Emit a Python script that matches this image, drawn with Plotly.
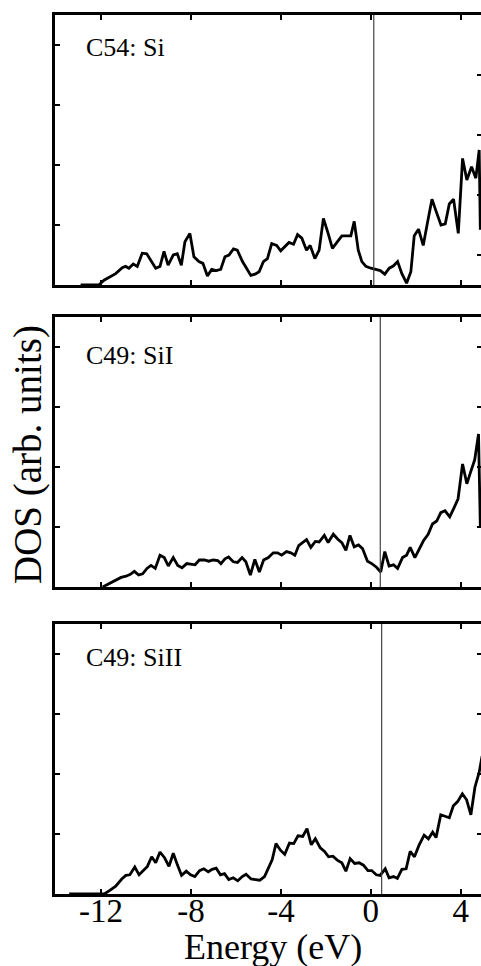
import plotly.graph_objects as go

# ---------------- data (Energy in eV, DOS in arb. units) ----------------
energy_c54_si = [-12.91, -12.10, -11.87, -11.58, -11.35, -11.06, -10.91, -10.76, -10.57, -10.39,
                 -10.17, -9.97, -9.75, -9.57, -9.38, -9.20, -9.02, -8.79, -8.61, -8.43,
                 -8.27, -8.05, -7.87, -7.65, -7.47, -7.27, -7.08, -6.87, -6.68, -6.49,
                 -6.31, -6.11, -5.94, -5.71, -5.53, -5.34, -5.15, -4.97, -4.78, -4.60,
                 -4.41, -4.19, -4.01, -3.81, -3.64, -3.44, -3.26, -3.07, -2.86, -2.70,
                 -2.49, -2.30, -2.11, -1.90, -1.71, -1.51, -1.29, -1.08, -0.89, -0.74,
                 -0.56, -0.40, -0.22, 0.00, 0.22, 0.42, 0.62, 0.82, 1.01, 1.19,
                 1.38, 1.59, 1.78, 1.93, 2.12, 2.33, 2.52, 2.72, 2.92, 3.12,
                 3.31, 3.49, 3.68, 3.89, 4.08, 4.27, 4.48, 4.67, 4.82, 4.87]
dos_c54_si = [0, 0, 0.08, 0.14, 0.19, 0.29, 0.31, 0.28, 0.35, 0.31,
              0.53, 0.52, 0.39, 0.28, 0.31, 0.56, 0.33, 0.50, 0.52, 0.33,
              0.72, 0.86, 0.47, 0.39, 0.36, 0.15, 0.26, 0.24, 0.26, 0.47,
              0.50, 0.60, 0.58, 0.39, 0.28, 0.16, 0.18, 0.22, 0.39, 0.44,
              0.69, 0.66, 0.57, 0.64, 0.71, 0.68, 0.84, 0.78, 0.58, 0.66,
              0.44, 0.58, 1.11, 0.86, 0.61, 0.71, 0.82, 0.82, 0.82, 1.06,
              0.58, 0.39, 0.31, 0.28, 0.26, 0.24, 0.18, 0.28, 0.32, 0.39,
              0.19, 0.03, 0.22, 0.82, 0.93, 0.66, 1.04, 1.43, 1.21, 1.00,
              1.02, 1.35, 1.43, 0.86, 2.11, 1.75, 1.97, 1.78, 2.25, 0.92]

energy_c49_si1 = [-11.93, -11.63, -11.41, -11.11, -10.89, -10.70, -10.52, -10.33, -10.15, -9.96,
                  -9.78, -9.59, -9.38, -9.19, -9.01, -8.79, -8.59, -8.40, -8.19, -8.00,
                  -7.82, -7.63, -7.41, -7.21, -7.01, -6.81, -6.67, -6.49, -6.33, -6.12,
                  -5.93, -5.73, -5.56, -5.36, -5.16, -4.96, -4.77, -4.56, -4.34, -4.15,
                  -3.97, -3.75, -3.56, -3.38, -3.21, -3.04, -2.86, -2.67, -2.47, -2.30,
                  -2.07, -1.90, -1.67, -1.48, -1.29, -1.11, -0.93, -0.74, -0.55, -0.37,
                  -0.15, 0.04, 0.25, 0.44, 0.62, 0.81, 1.01, 1.19, 1.41, 1.59,
                  1.75, 1.96, 2.15, 2.34, 2.55, 2.74, 2.93, 3.11, 3.30, 3.51,
                  3.70, 3.88, 4.08, 4.27, 4.44, 4.62, 4.79, 4.87]
dos_c49_si1 = [0, 0.06, 0.10, 0.16, 0.18, 0.21, 0.26, 0.20, 0.22, 0.31,
               0.36, 0.31, 0.53, 0.49, 0.35, 0.49, 0.36, 0.32, 0.39, 0.38,
               0.37, 0.45, 0.45, 0.43, 0.45, 0.44, 0.39, 0.47, 0.50, 0.42,
               0.41, 0.49, 0.42, 0.20, 0.46, 0.25, 0.45, 0.49, 0.57, 0.57,
               0.53, 0.59, 0.57, 0.53, 0.69, 0.74, 0.79, 0.66, 0.76, 0.75,
               0.86, 0.74, 0.88, 0.80, 0.74, 0.61, 0.86, 0.67, 0.70, 0.64,
               0.43, 0.39, 0.33, 0.25, 0.59, 0.35, 0.37, 0.31, 0.49, 0.53,
               0.66, 0.49, 0.64, 0.77, 0.88, 1.05, 1.10, 1.24, 1.27, 1.17,
               1.32, 1.47, 2.05, 1.72, 1.92, 2.12, 2.55, 1.00]

energy_c49_si2 = [-13.42, -11.86, -11.61, -11.35, -11.08, -10.90, -10.72, -10.50, -10.31, -10.13,
                  -9.94, -9.75, -9.57, -9.38, -9.17, -8.98, -8.79, -8.61, -8.42, -8.21,
                  -8.02, -7.83, -7.62, -7.43, -7.23, -7.06, -6.88, -6.69, -6.51, -6.32,
                  -6.12, -5.92, -5.72, -5.55, -5.33, -5.13, -4.94, -4.73, -4.54, -4.39,
                  -4.22, -4.02, -3.83, -3.62, -3.43, -3.24, -3.03, -2.84, -2.65, -2.47,
                  -2.25, -2.06, -1.88, -1.69, -1.48, -1.29, -1.11, -0.92, -0.72, -0.52,
                  -0.33, -0.13, 0.04, 0.24, 0.41, 0.64, 0.81, 1.01, 1.18, 1.38,
                  1.57, 1.75, 1.94, 2.14, 2.37, 2.56, 2.75, 2.90, 3.11, 3.30,
                  3.49, 3.67, 3.86, 4.07, 4.26, 4.45, 4.63, 4.82, 4.95]
dos_c49_si2 = [0, 0, 0.06, 0.13, 0.25, 0.31, 0.32, 0.45, 0.32, 0.38,
               0.46, 0.62, 0.52, 0.70, 0.60, 0.46, 0.68, 0.49, 0.31, 0.38,
               0.32, 0.29, 0.39, 0.42, 0.37, 0.41, 0.43, 0.32, 0.34, 0.24,
               0.27, 0.22, 0.29, 0.33, 0.25, 0.24, 0.23, 0.29, 0.46, 0.57,
               0.84, 0.73, 0.66, 0.85, 0.84, 0.97, 0.96, 1.09, 0.82, 0.92,
               0.77, 0.71, 0.62, 0.63, 0.56, 0.52, 0.38, 0.59, 0.51, 0.52,
               0.48, 0.39, 0.39, 0.32, 0.31, 0.42, 0.27, 0.29, 0.26, 0.41,
               0.42, 0.71, 0.62, 0.81, 0.98, 0.92, 1.03, 0.94, 1.32, 1.29,
               1.27, 1.47, 1.54, 1.67, 1.57, 1.32, 1.78, 2.03, 2.30]

panel_labels = ["C54: Si", "C49: SiI", "C49: SiII"]
fermi_levels = [0.13, 0.42, 0.48]

x_tick_vals = [-12, -8, -4, 0, 4]
x_tick_text = ["-12", "-8", "-4", "0", "4"]
y_tick_vals = [1, 2, 3, 4]
right_tick_vals = [[0.5, 1.5, 2.5, 3.5], [1, 2, 3, 4], [1, 2, 3, 4]]

x_title = "Energy (eV)"
y_title = "DOS (arb. units)"

energies = [energy_c54_si, energy_c49_si1, energy_c49_si2]
doses = [dos_c54_si, dos_c49_si1, dos_c49_si2]

# ---------------- layout geometry ----------------
W, H = 481, 966
FONT = "Liberation Serif, Times New Roman, serif"
x_range = [-14.05, 4.9]
y_range = [0, 4.5]
plot_left_px = 55
panel_px = [(15, 285), (317, 587), (624, 894)]  # top, bottom in pixels


def py(p):
    return (H - p) / H


fig = go.Figure()
layout = dict(
    width=W, height=H,
    margin=dict(l=0, r=0, t=0, b=0),
    paper_bgcolor="white", plot_bgcolor="white",
    showlegend=False,
    font=dict(family=FONT, color="black"),
)

for i in range(3):
    n = "" if i == 0 else str(i + 1)
    xa, ya = "x" + n, "y" + n
    yr = "y" + str(i + 4)
    top, bot = panel_px[i]
    fig.add_trace(go.Scatter(x=energies[i], y=doses[i], xaxis=xa, yaxis=ya,
                             mode="lines", line=dict(color="black", width=2.8),
                             hoverinfo="skip"))
    fig.add_trace(go.Scatter(x=[fermi_levels[i], fermi_levels[i]], y=[y_range[0], y_range[1]],
                             xaxis=xa, yaxis=ya, mode="lines",
                             line=dict(color="#444444", width=1.2), hoverinfo="skip"))
    fig.add_trace(go.Scatter(x=[None], y=[None], xaxis=xa, yaxis=yr, mode="lines",
                             hoverinfo="skip"))
    layout["xaxis" + n] = dict(
        domain=[plot_left_px / W, 1.0], range=x_range, anchor=ya,
        showline=True, linecolor="black", linewidth=3, mirror="ticks",
        ticks="inside", ticklen=5, tickwidth=2, tickcolor="black",
        tickvals=x_tick_vals, ticktext=x_tick_text,
        showticklabels=(i == 2), tickfont=dict(family=FONT, size=33, color="black"),
        ticklabelstandoff=-15,
        showgrid=False, zeroline=False, fixedrange=True,
    )
    layout["yaxis" + n] = dict(
        domain=[py(bot), py(top)], range=y_range, anchor=xa,
        showline=True, linecolor="black", linewidth=3,
        ticks="inside", ticklen=5, tickwidth=2, tickcolor="black",
        tickvals=y_tick_vals, showticklabels=False,
        showgrid=False, zeroline=False, fixedrange=True,
    )
    layout["yaxis" + str(i + 4)] = dict(
        overlaying=ya, side="right", anchor=xa, range=y_range,
        showline=False, ticks="inside", ticklen=4, tickwidth=2, tickcolor="black",
        tickvals=right_tick_vals[i], showticklabels=False,
        showgrid=False, zeroline=False, fixedrange=True,
    )

fig.update_layout(**layout)

label_centers = [48, 355, 657]
for i in range(3):
    fig.add_annotation(text=panel_labels[i], xref="paper", yref="paper",
                       x=84 / W, y=py(label_centers[i]), xanchor="left", yanchor="middle",
                       showarrow=False, font=dict(family=FONT, size=26, color="black"))

fig.add_annotation(text=x_title, xref="paper", yref="paper", x=273 / W, y=0,
                   xanchor="center", yanchor="bottom", yshift=-2, borderpad=0, showarrow=False,
                   font=dict(family=FONT, size=36, color="black"))
fig.add_annotation(text=y_title, xref="paper", yref="paper", x=28 / W, y=py(455),
                   xanchor="center", yanchor="middle", textangle=-90, showarrow=False,
                   font=dict(family=FONT, size=39, color="black"))

fig.write_html("out.html")
